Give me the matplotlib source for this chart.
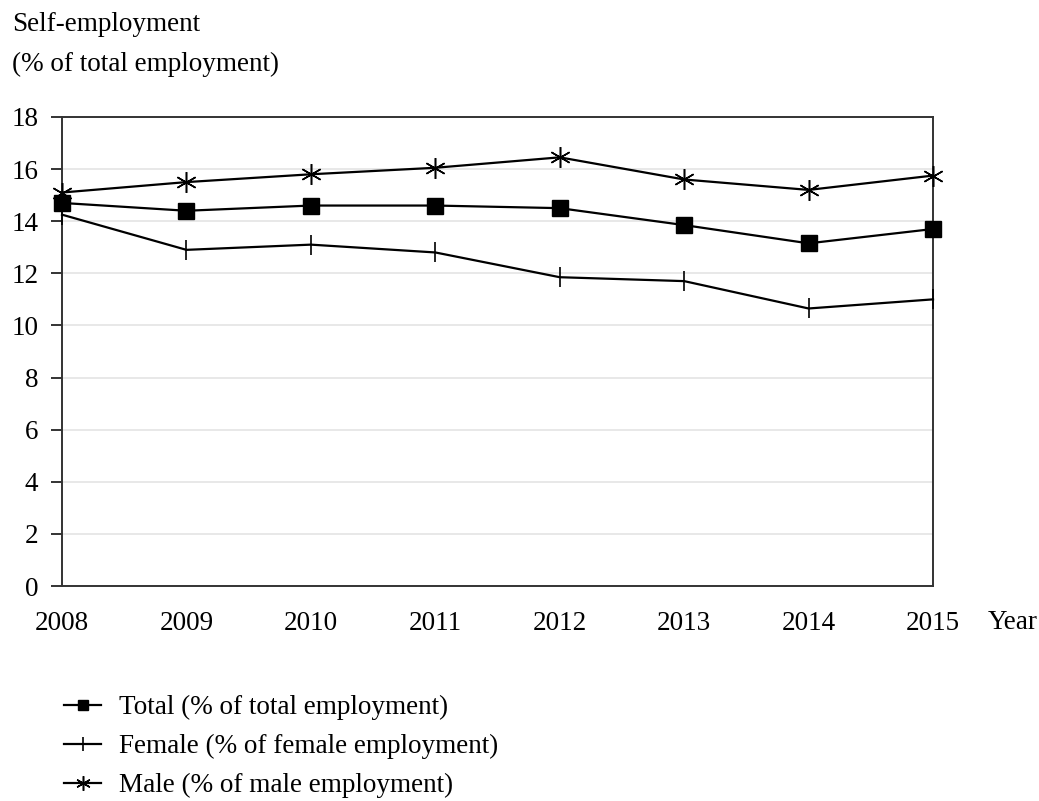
import matplotlib
matplotlib.use('Agg')
import matplotlib.pyplot as plt

plt.rcParams['font.family'] = ['Liberation Serif', 'DejaVu Serif']

years = [2008, 2009, 2010, 2011, 2012, 2013, 2014, 2015]
total = [14.7, 14.4, 14.6, 14.6, 14.5, 13.85, 13.15, 13.7]
female = [14.25, 12.9, 13.1, 12.8, 11.85, 11.7, 10.65, 11.0]
male = [15.1, 15.5, 15.8, 16.05, 16.45, 15.6, 15.2, 15.75]

labels = ['Total (% of total employment)',
          'Female (% of female employment)',
          'Male (% of male employment)']

fig = plt.figure(figsize=(10.39, 8.01), dpi=100)
ax = fig.add_axes([0.0597, 0.2684, 0.8383, 0.5856])

lw = 1.6
l1, = ax.plot(years, total, color='black', lw=lw, marker='s', markersize=11, clip_on=False, zorder=3)
l2, = ax.plot(years, female, color='black', lw=lw, marker='|', markersize=15, markeredgewidth=1.2, clip_on=False, zorder=3)
l3, = ax.plot(years, male, color='black', lw=lw, marker=(6, 2, 0), markersize=15, markeredgewidth=1.1, clip_on=False, zorder=3)

ax.set_xlim(2008, 2015)
ax.set_ylim(0, 18)
ax.set_yticks(range(0, 19, 2))
ax.set_xticks(years)
ax.grid(axis='y', color='#e4e4e4', lw=1.2)
ax.set_axisbelow(True)
for s in ax.spines.values():
    s.set_color('#333333')
    s.set_linewidth(1.4)
ax.tick_params(axis='y', length=8, width=1.4, color='#333333', labelsize=19.5, pad=9)
ax.tick_params(axis='x', length=0, labelsize=19.5, pad=18)

fig.text(0.012, 0.969, 'Self-employment', fontsize=19.5, va='center', ha='left')
fig.text(0.012, 0.919, '(% of total employment)', fontsize=19.5, va='center', ha='left')
fig.text(0.951, 0.223, 'Year', fontsize=19.5, va='center', ha='left')

fig.legend([l1, l2, l3], labels, loc='upper left', bbox_to_anchor=(0.062, 0.1325),
           frameon=False, fontsize=19.5, handlelength=1.35, handletextpad=0.65,
           labelspacing=0.52, borderpad=0, borderaxespad=0, markerscale=0.7)

fig.savefig('out.png', dpi=100)
